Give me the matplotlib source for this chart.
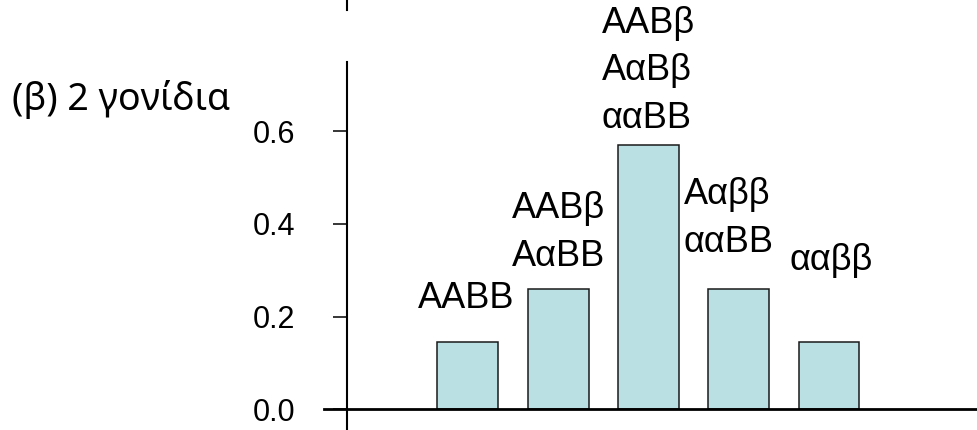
import matplotlib
matplotlib.use('Agg')
import matplotlib.pyplot as plt
from matplotlib.lines import Line2D

# genotype groups and their frequencies
genotypes = ['AABB', 'AABβ\nAαBB', 'AABβ\nAαBβ\nααBB', 'Aαββ\nααBB', 'ααββ']
frequencies = [0.145, 0.26, 0.57, 0.26, 0.145]
yticks = [0.0, 0.2, 0.4, 0.6]
title = '(β) 2 γονίδια'

# label placement (pixels from the bar top to the last baseline)
label_offsets = [(-2, 34), (0, 23), (0, 17), (-10, 37), (2, 72)]

W, H = 978, 430
fig = plt.figure(figsize=(W / 100, H / 100), dpi=100)
ax = fig.add_axes([324 / W, 0, 1 - 324 / W, 1 - 61.7 / H])

positions = list(range(len(frequencies)))
ax.bar(positions, frequencies, width=0.675, color='#bae0e3',
       edgecolor='#1a1a1a', linewidth=1.1, zorder=2)

ax.set_xlim(-1.592, 5.65)
ax.set_ylim(-0.0447, 0.75)

for spine in ['top', 'right']:
    ax.spines[spine].set_visible(False)
ax.spines['left'].set_position(('data', -1.341))
ax.spines['left'].set_bounds(-0.0447, 0.75)
ax.spines['bottom'].set_position(('data', 0))
ax.spines['left'].set_linewidth(1.5)
ax.spines['bottom'].set_linewidth(2.0)

ax.set_xticks([])
ax.set_yticks(yticks)
ax.set_yticklabels(['%.1f' % t for t in yticks], family='Liberation Sans',
                   fontsize=22)
ax.tick_params(axis='y', direction='out', length=10, width=1.1, pad=27)

for i, (text, value) in enumerate(zip(genotypes, frequencies)):
    dx, dy = label_offsets[i]
    ax.annotate(text, xy=(i, value), xytext=(dx, dy),
                textcoords='offset pixels', ha='center', va='baseline',
                family='Liberation Sans', fontsize=26, linespacing=1.47,
                multialignment='left')

# small axis stub above the plot
fig.add_artist(Line2D([346.7 / W, 346.7 / W], [1, 1 - 9.5 / H],
                      transform=fig.transFigure, color='black', lw=1.5))

fig.text(11.7 / W, 1 - 110 / H, title, ha='left', va='baseline',
         family='Noto Sans', fontsize=27)

fig.savefig('out.png', dpi=100)
